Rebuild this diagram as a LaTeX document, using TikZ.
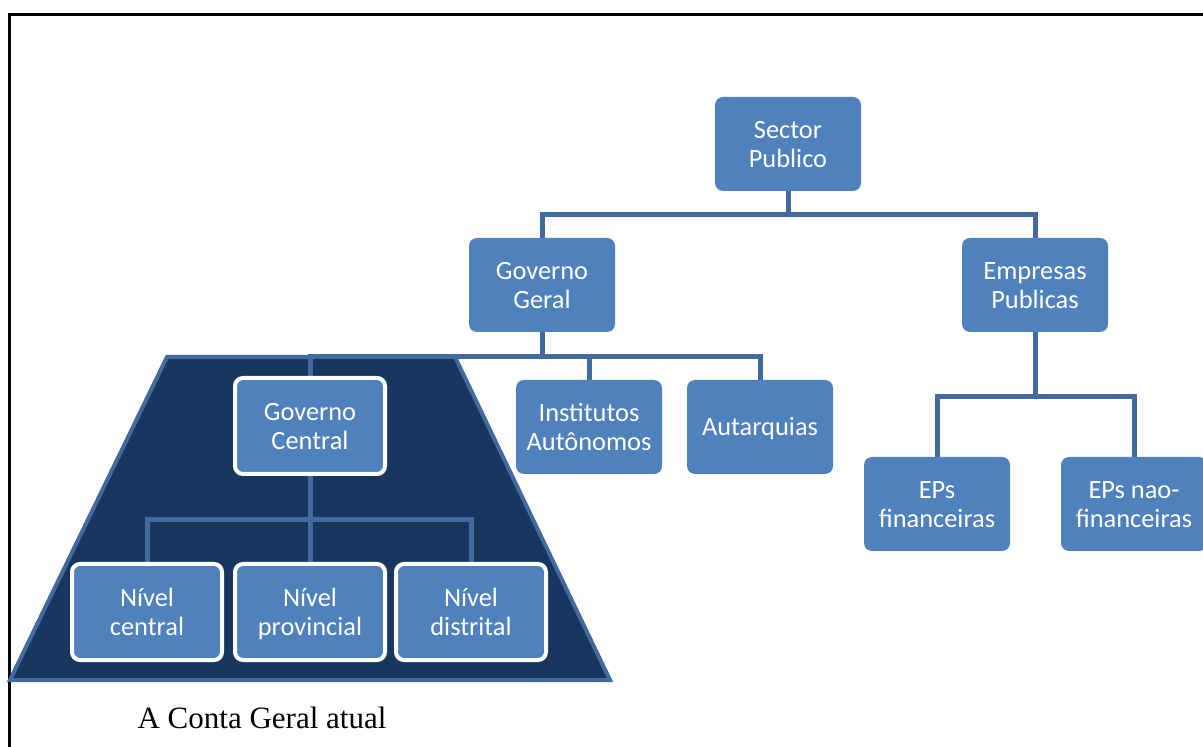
\documentclass[tikz,border=0pt]{standalone}
\usepackage{fontspec}
\setmainfont{Liberation Serif}
\newfontfamily\boxfont{Carlito}
\usetikzlibrary{backgrounds}
\definecolor{boxblue}{RGB}{79,129,189}
\definecolor{linkblue}{RGB}{67,106,158}
\definecolor{navy}{RGB}{23,55,94}
\newcommand\toprule{\rule{0pt}{12.2pt}}
\newcommand\botrule{\rule[-3.4pt]{0pt}{0pt}}
\tikzset{
  unit/.style={fill=boxblue, rounded corners=4pt, minimum width=73pt, minimum height=47pt,
    text=white, font=\boxfont\fontsize{13.2}{14.5}\selectfont, align=center, inner sep=0pt},
  framed/.style={unit, draw=white, line width=2pt, minimum width=75pt, minimum height=48pt},
  link/.style={linkblue, line width=2.5pt},
}
\begin{document}
\begin{tikzpicture}[x=0.5pt,y=-0.5pt]
\useasboundingbox (0,0) rectangle (1203,747);
% boxes
\node[unit] (sp) at (788,144) {\toprule Sector\\Publico\botrule};
\node[unit] (gg) at (542,285) {\toprule Governo\\Geral\botrule};
\node[unit] (ep) at (1035,285) {\toprule Empresas\\Publicas\botrule};
\node[framed] (gc) at (310,426) {\toprule Governo\\Central\botrule};
\node[unit] (ia) at (589,427) {\toprule Institutos\\Autônomos\botrule};
\node[unit] (au) at (760,427) {\toprule Autarquias\botrule};
\node[unit] (epf) at (937,504) {\toprule EPs\\financeiras\botrule};
\node[unit] (epn) at (1134,504) {\toprule EPs nao-\\financeiras\botrule};
\node[framed] (nc) at (147,612) {\toprule Nível\\central\botrule};
\node[framed] (np) at (310,612) {\toprule Nível\\provincial\botrule};
\node[framed] (nd) at (471,612) {\toprule Nível\\distrital\botrule};
\node (caption) at (262,718) {\fontsize{15.5}{18}\selectfont A Conta Geral atual};
% bus points
\coordinate (b1) at (788,215);
\coordinate (b2) at (542,357);
\coordinate (b3) at (1035,397);
\coordinate (b4) at (310,520);
\begin{scope}[on background layer]
\draw[line width=1.5pt] (9.5,747) -- (9.5,14.5) -- (1203,14.5);
\draw[fill=navy, draw=linkblue, line width=2pt] (167,357) -- (455,357) -- (610,680) -- (10,680) -- cycle;
\draw[link] (sp) -- (b1);
\draw[link] (gg.north) |- (b1) -| (ep.north);
\draw[link] (gg) -- (b2);
\draw[link] (gc.north) |- (b2) -| (au.north);
\draw[link] (ia.north) -- (ia.north |- b2);
\draw[link] (ep) -- (b3);
\draw[link] (epf.north) |- (b3) -| (epn.north);
\draw[link] (gc) -- (b4);
\draw[link] (nc.north) |- (b4) -| (nd.north);
\draw[link] (np.north) -- (np.north |- b4);
\end{scope}
\end{tikzpicture}
\end{document}
